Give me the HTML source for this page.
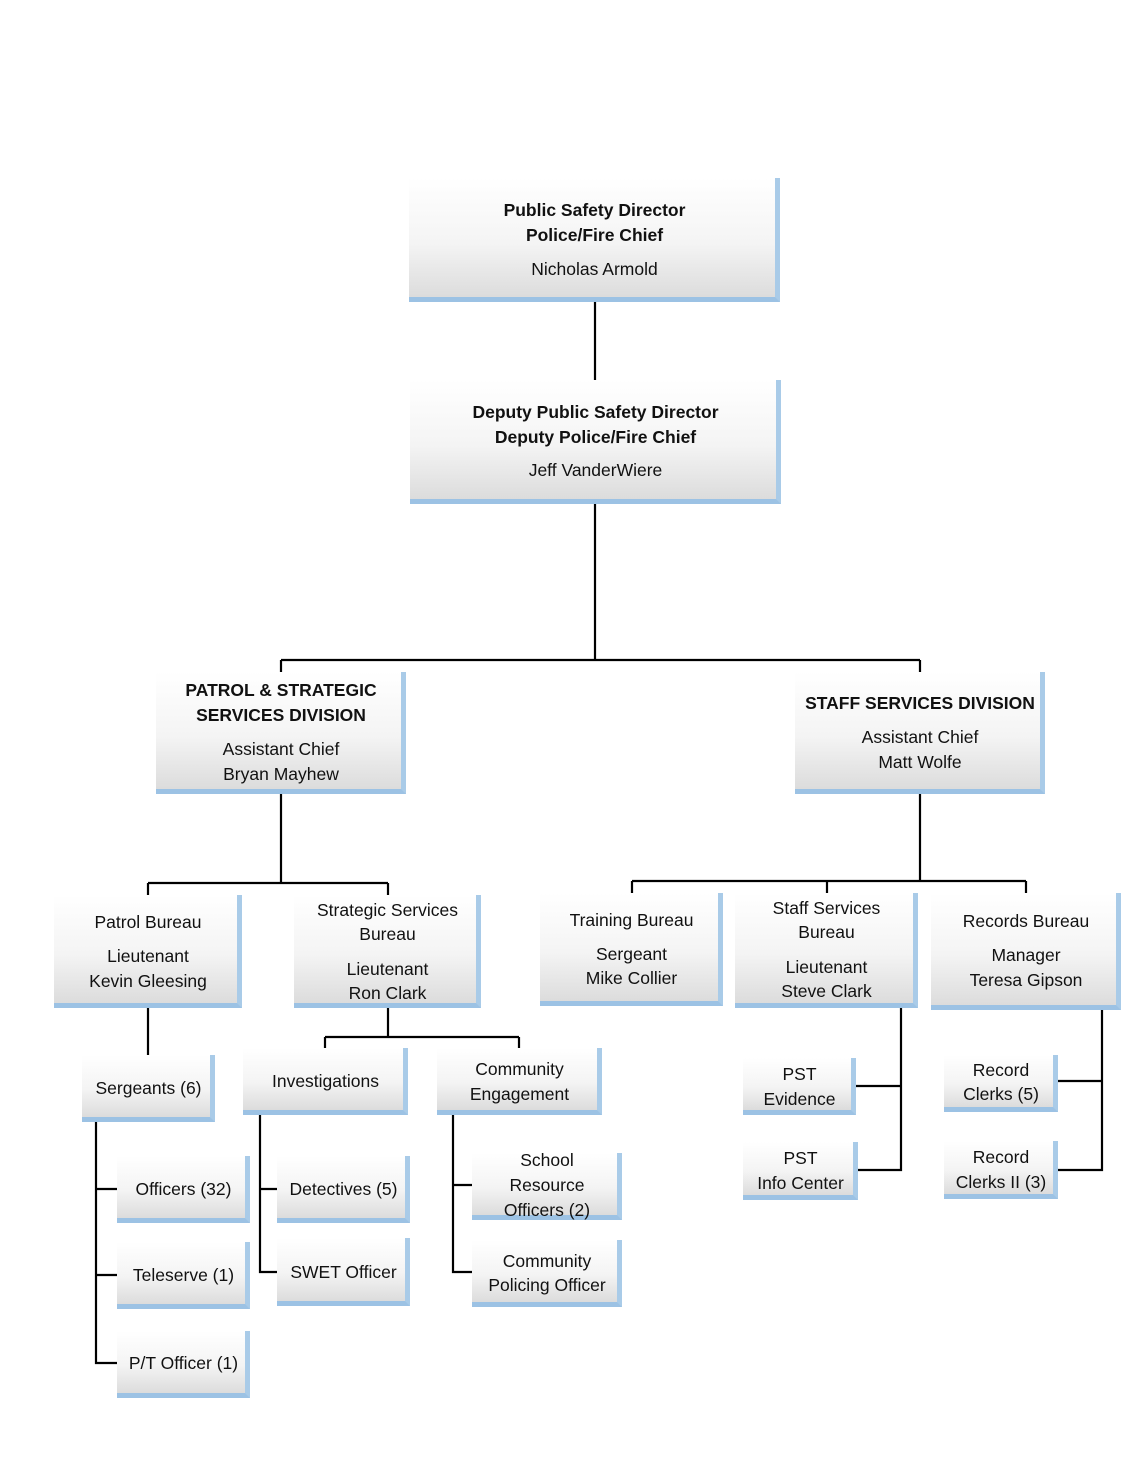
<!DOCTYPE html>
<html><head><meta charset="utf-8"><style>
body{margin:0;width:1147px;height:1484px;background:#fff;position:relative;font-family:"Liberation Sans",sans-serif;color:#111;overflow:hidden}
.b{position:absolute;box-sizing:border-box;background:linear-gradient(#ffffff 0%,#f4f4f4 55%,#dcdcdc 100%);border-right:5px solid #a9cbe8;border-bottom:5px solid #9cc2e4}
.t{position:absolute;text-align:center;font-size:17.5px;line-height:22px;height:22px;white-space:nowrap}
.bo{font-weight:bold}
svg{position:absolute;left:0;top:0}
</style></head><body>
<svg width="1147" height="1484" stroke="#000" stroke-width="2.2" fill="none">
<path d="M595 301V380M595 503V660M281 660H920M281 660V672M920 660V672"/>
<path d="M281 793V883M148 883H388M148 883V895M388 883V895"/>
<path d="M920 793V881M632 881H1026M632 881V893M827 881V893M1026 881V893"/>
<path d="M148 1007V1055M388 1007V1037M325 1037H519M325 1037V1048M519 1037V1048"/>
<path d="M96 1121V1363H117M96 1189H117M96 1275H117"/>
<path d="M260 1114V1272H277M260 1189H277"/>
<path d="M453 1114V1272H472M453 1185H472"/>
<path d="M901 1007V1170H857M901 1086H855"/>
<path d="M1102 1009V1170H1057M1102 1081H1057"/>
</svg>

<div class="b" style="left:409px;top:178px;width:371px;height:124px"></div>
<div class="t bo" style="left:409px;width:371px;top:199px">Public Safety Director</div>
<div class="t bo" style="left:409px;width:371px;top:224px">Police/Fire Chief</div>
<div class="t" style="left:409px;width:371px;top:258px">Nicholas Armold</div>

<div class="b" style="left:410px;top:380px;width:371px;height:124px"></div>
<div class="t bo" style="left:410px;width:371px;top:401px">Deputy Public Safety Director</div>
<div class="t bo" style="left:410px;width:371px;top:426px">Deputy Police/Fire Chief</div>
<div class="t" style="left:410px;width:371px;top:459px">Jeff VanderWiere</div>

<div class="b" style="left:156px;top:672px;width:250px;height:122px"></div>
<div class="t bo" style="left:156px;width:250px;top:679px">PATROL &amp; STRATEGIC</div>
<div class="t bo" style="left:156px;width:250px;top:704px">SERVICES DIVISION</div>
<div class="t" style="left:156px;width:250px;top:738px">Assistant Chief</div>
<div class="t" style="left:156px;width:250px;top:763px">Bryan Mayhew</div>

<div class="b" style="left:795px;top:672px;width:250px;height:122px"></div>
<div class="t bo" style="left:795px;width:250px;top:692px">STAFF SERVICES DIVISION</div>
<div class="t" style="left:795px;width:250px;top:726px">Assistant Chief</div>
<div class="t" style="left:795px;width:250px;top:751px">Matt Wolfe</div>

<div class="b" style="left:54px;top:895px;width:188px;height:113px"></div>
<div class="t" style="left:54px;width:188px;top:911px">Patrol Bureau</div>
<div class="t" style="left:54px;width:188px;top:945px">Lieutenant</div>
<div class="t" style="left:54px;width:188px;top:970px">Kevin Gleesing</div>

<div class="b" style="left:294px;top:895px;width:187px;height:113px"></div>
<div class="t" style="left:294px;width:187px;top:899px">Strategic Services</div>
<div class="t" style="left:294px;width:187px;top:923px">Bureau</div>
<div class="t" style="left:294px;width:187px;top:958px">Lieutenant</div>
<div class="t" style="left:294px;width:187px;top:982px">Ron Clark</div>

<div class="b" style="left:540px;top:893px;width:183px;height:113px"></div>
<div class="t" style="left:540px;width:183px;top:909px">Training Bureau</div>
<div class="t" style="left:540px;width:183px;top:943px">Sergeant</div>
<div class="t" style="left:540px;width:183px;top:967px">Mike Collier</div>

<div class="b" style="left:735px;top:893px;width:183px;height:115px"></div>
<div class="t" style="left:735px;width:183px;top:897px">Staff Services</div>
<div class="t" style="left:735px;width:183px;top:921px">Bureau</div>
<div class="t" style="left:735px;width:183px;top:956px">Lieutenant</div>
<div class="t" style="left:735px;width:183px;top:980px">Steve Clark</div>

<div class="b" style="left:931px;top:893px;width:190px;height:117px"></div>
<div class="t" style="left:931px;width:190px;top:910px">Records Bureau</div>
<div class="t" style="left:931px;width:190px;top:944px">Manager</div>
<div class="t" style="left:931px;width:190px;top:969px">Teresa Gipson</div>

<div class="b" style="left:82px;top:1055px;width:133px;height:67px"></div>
<div class="t" style="left:82px;width:133px;top:1077px">Sergeants (6)</div>

<div class="b" style="left:243px;top:1048px;width:165px;height:67px"></div>
<div class="t" style="left:243px;width:165px;top:1070px">Investigations</div>

<div class="b" style="left:437px;top:1048px;width:165px;height:67px"></div>
<div class="t" style="left:437px;width:165px;top:1058px">Community</div>
<div class="t" style="left:437px;width:165px;top:1083px">Engagement</div>

<div class="b" style="left:117px;top:1156px;width:133px;height:67px"></div>
<div class="t" style="left:117px;width:133px;top:1178px">Officers (32)</div>
<div class="b" style="left:117px;top:1242px;width:133px;height:67px"></div>
<div class="t" style="left:117px;width:133px;top:1264px">Teleserve (1)</div>
<div class="b" style="left:117px;top:1331px;width:133px;height:67px"></div>
<div class="t" style="left:117px;width:133px;top:1352px">P/T Officer (1)</div>

<div class="b" style="left:277px;top:1156px;width:133px;height:67px"></div>
<div class="t" style="left:277px;width:133px;top:1178px">Detectives (5)</div>
<div class="b" style="left:277px;top:1238px;width:133px;height:68px"></div>
<div class="t" style="left:277px;width:133px;top:1261px">SWET Officer</div>

<div class="b" style="left:472px;top:1153px;width:150px;height:67px"></div>
<div class="t" style="left:472px;width:150px;top:1149px">School</div>
<div class="t" style="left:472px;width:150px;top:1174px">Resource</div>
<div class="t" style="left:472px;width:150px;top:1199px">Officers (2)</div>
<div class="b" style="left:472px;top:1240px;width:150px;height:67px"></div>
<div class="t" style="left:472px;width:150px;top:1250px">Community</div>
<div class="t" style="left:472px;width:150px;top:1274px">Policing Officer</div>

<div class="b" style="left:743px;top:1058px;width:113px;height:57px"></div>
<div class="t" style="left:743px;width:113px;top:1063px">PST</div>
<div class="t" style="left:743px;width:113px;top:1088px">Evidence</div>
<div class="b" style="left:743px;top:1142px;width:115px;height:58px"></div>
<div class="t" style="left:743px;width:115px;top:1147px">PST</div>
<div class="t" style="left:743px;width:115px;top:1172px">Info Center</div>

<div class="b" style="left:944px;top:1055px;width:114px;height:57px"></div>
<div class="t" style="left:944px;width:114px;top:1059px">Record</div>
<div class="t" style="left:944px;width:114px;top:1083px">Clerks (5)</div>
<div class="b" style="left:944px;top:1141px;width:114px;height:58px"></div>
<div class="t" style="left:944px;width:114px;top:1146px">Record</div>
<div class="t" style="left:944px;width:114px;top:1171px">Clerks II (3)</div>
</body></html>
